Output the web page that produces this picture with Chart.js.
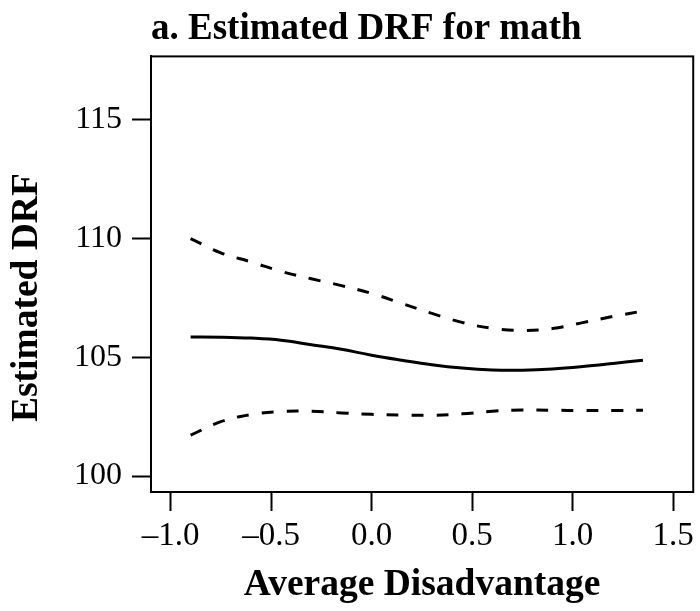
<!DOCTYPE html>
<html>
<head>
<meta charset="utf-8">
<script src="https://cdn.jsdelivr.net/npm/chart.js@4.4.0/dist/chart.umd.min.js"></script>
<style>
  body { margin: 0; background: #fff; }
  canvas { display: block; }
</style>
</head>
<body>
<canvas id="drfChart" width="700" height="611"></canvas>
<script>
// Average disadvantage grid and estimated DRF with its confidence band
const avgDisadvantage = [-0.9, -0.75, -0.6, -0.45, -0.3, -0.15, 0, 0.15, 0.3, 0.45, 0.6, 0.75, 0.9, 1.05, 1.2, 1.35];
const drfEstimate = [105.86, 105.85, 105.81, 105.72, 105.53, 105.34, 105.09, 104.88, 104.69, 104.55, 104.47, 104.46, 104.51, 104.61, 104.74, 104.88];
const drfUpper = [110.0, 109.4, 109.02, 108.62, 108.31, 108.02, 107.69, 107.27, 106.85, 106.47, 106.22, 106.13, 106.21, 106.46, 106.72, 106.95];
const drfLower = [101.72, 102.29, 102.59, 102.72, 102.73, 102.66, 102.60, 102.57, 102.56, 102.62, 102.73, 102.78, 102.77, 102.76, 102.76, 102.77];

const xTicks = [-1.0, -0.5, 0.0, 0.5, 1.0, 1.5];
const yTicks = [100, 105, 110, 115];

const serif = "'Liberation Serif', 'DejaVu Serif', serif";

function toPoints(ys) {
    return avgDisadvantage.map((x, i) => ({ x: x, y: ys[i] }));
}

// box around the plot region, like R's box()
const boxPlugin = {
    id: 'plotBox',
    afterDraw(chart) {
        const a = chart.chartArea;
        const ctx = chart.ctx;
        ctx.save();
        ctx.strokeStyle = '#000';
        ctx.lineWidth = 2;
        ctx.strokeRect(a.left, a.top, a.right - a.left, a.bottom - a.top);
        ctx.restore();
    }
};

const ctx = document.getElementById('drfChart').getContext('2d');
const drfChart = new Chart(ctx, {
    type: 'line',
    data: {
        datasets: [
            {
                label: 'Estimated DRF',
                data: toPoints(drfEstimate),
                borderColor: '#000',
                borderWidth: 3,
                pointRadius: 0,
                tension: 0.4,
                fill: false
            },
            {
                label: 'Upper bound',
                data: toPoints(drfUpper),
                borderColor: '#000',
                borderWidth: 3,
                borderDash: [12, 13],
                pointRadius: 0,
                tension: 0.4,
                fill: false
            },
            {
                label: 'Lower bound',
                data: toPoints(drfLower),
                borderColor: '#000',
                borderWidth: 3,
                borderDash: [12, 13],
                pointRadius: 0,
                tension: 0.4,
                fill: false
            }
        ]
    },
    options: {
        responsive: false,
        animation: false,
        layout: { padding: { left: 0, right: 4, top: 0, bottom: 0 } },
        plugins: {
            legend: { display: false },
            tooltip: { enabled: false },
            title: {
                display: true,
                fullSize: false,
                align: 'start',
                text: 'a. Estimated DRF for math',
                color: '#000',
                font: { family: serif, size: 37, weight: 'bold', lineHeight: 1.2 },
                padding: { top: 7, bottom: 5 }
            }
        },
        scales: {
            x: {
                type: 'linear',
                min: -1.097,
                max: 1.6,
                afterFit: s => { s.height = 119; },
                afterBuildTicks: s => { s.ticks = xTicks.map(v => ({ value: v })); },
                ticks: {
                    includeBounds: false,
                    color: '#000',
                    padding: 6,
                    maxRotation: 0,
                    font: { family: serif, size: 33 },
                    callback: v => v.toFixed(1).replace('-', '\u2013')
                },
                grid: {
                    drawOnChartArea: false,
                    drawTicks: true,
                    tickLength: 19,
                    tickWidth: 2,
                    tickColor: '#000'
                },
                border: { display: true, color: '#000', width: 2 },
                title: {
                    display: true,
                    text: 'Average Disadvantage',
                    color: '#000',
                    font: { family: serif, size: 37.5, weight: 'bold', lineHeight: 1.2 },
                    padding: { top: 0, bottom: 3 }
                }
            },
            y: {
                type: 'linear',
                min: 99.33,
                max: 117.67,
                afterFit: s => { s.width = 151; },
                afterBuildTicks: s => { s.ticks = yTicks.map(v => ({ value: v })); },
                ticks: {
                    includeBounds: false,
                    color: '#000',
                    padding: 10,
                    font: { family: serif, size: 32 },
                    callback: v => String(v)
                },
                grid: {
                    drawOnChartArea: false,
                    drawTicks: true,
                    tickLength: 19,
                    tickWidth: 2,
                    tickColor: '#000'
                },
                border: { display: true, color: '#000', width: 2 },
                title: {
                    display: true,
                    // trailing spaces push the rotated title down, as in the original
                    text: 'Estimated DRF     ',
                    color: '#000',
                    font: { family: serif, size: 37.5, weight: 'bold', lineHeight: 1.2 },
                    padding: { top: 5, bottom: 0 }
                }
            }
        }
    },
    plugins: [boxPlugin]
});
</script>
</body>
</html>
